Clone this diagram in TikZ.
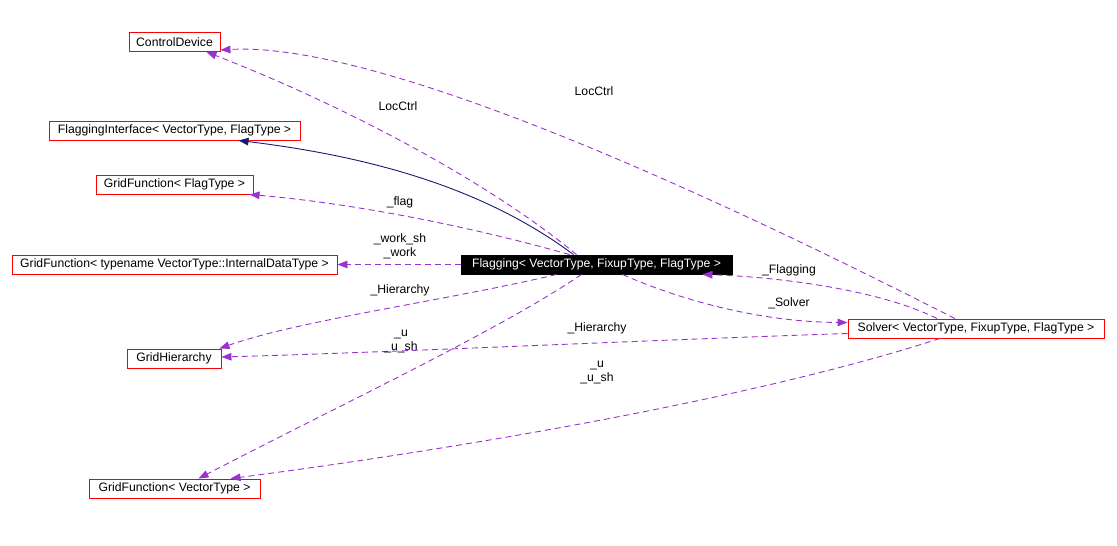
\documentclass[tikz,border=0pt]{standalone}
\usepackage{fontspec}
\setmainfont{Liberation Sans}
\usetikzlibrary{arrows.meta,positioning}
\definecolor{orchidline}{RGB}{154,50,205}
\definecolor{navyline}{RGB}{25,25,112}

\begin{document}
\begin{tikzpicture}[x=1pt,y=-1pt,
  font=\fontsize{12.2}{14}\selectfont,
  clsnode/.style={draw=red,line width=0.9pt,inner xsep=2pt,inner ysep=0pt,minimum height=19pt,text=black},
  curnode/.style={draw=black,fill=black,text=white,line width=0.9pt,inner xsep=2pt,inner ysep=0pt,minimum height=19pt},
  uselink/.style={draw=orchidline,line width=0.9pt,dash pattern=on 6pt off 4pt,-{Triangle[length=10pt,width=7.5pt,fill=orchidline]}},
  inhlink/.style={draw=navyline,line width=0.9pt,-{Triangle[length=10pt,width=7.5pt,fill=navyline]}},
  lbl/.style={inner sep=0pt,align=center}
]
\useasboundingbox (0,0) rectangle (1117,546);

% classes
\node[clsnode,minimum width=91pt] at (174.5,42) (cd) {ControlDevice};
\node[clsnode,minimum width=251pt] at (174.5,130.5) (fi) {FlaggingInterface< VectorType, FlagType >};
\node[clsnode,minimum width=157pt] at (174.5,184.5) (gff) {GridFunction< FlagType >};
\node[clsnode,minimum width=325pt] at (174.5,264.5) (gfi) {GridFunction< typename VectorType::InternalDataType >};
\node[clsnode,minimum width=94pt] at (174,358.5) (gh) {GridHierarchy};
\node[clsnode,minimum width=171pt] at (174.5,488.5) (gfv) {GridFunction< VectorType >};
\node[curnode,minimum width=271pt] at (596.5,264.5) (flg) {Flagging< VectorType, FixupType, FlagType >};
\node[clsnode,minimum width=256pt] at (976,328.5) (slv) {Solver< VectorType, FixupType, FlagType >};

% inheritance
\draw[inhlink] ([xshift=-23pt]flg.north) .. controls (500,200) and (400,160) .. ([xshift=64pt]fi.south);

% usage
\draw[uselink] ([xshift=-20pt]flg.north) .. controls (480,175) and (330,100) .. ([xshift=32pt]cd.south);
\draw[uselink] ([xshift=-21pt]slv.north) .. controls (800,240) and (400,40) .. ([yshift=-8pt]cd.east);
\draw[uselink] ([xshift=-27pt]flg.north) .. controls (490,232) and (370,205) .. ([xshift=75pt]gff.south);
\draw[uselink] (flg.west) -- (gfi.east);
\draw[uselink] ([xshift=-40pt]flg.south) .. controls (450,300) and (300,320) .. ([xshift=-2pt]gh.north east);
\draw[uselink] ([xshift=-15pt]flg.south) .. controls (500,330) and (330,410) .. ([xshift=24pt]gfv.north);
\draw[uselink] ([xshift=26pt]flg.south) .. controls (680,300) and (760,322) .. ([yshift=6pt]slv.west);
\draw[uselink] ([xshift=-39pt]slv.north) .. controls (880,290) and (780,277) .. ([xshift=-30pt]flg.south east);
\draw[uselink] ([yshift=-5pt]slv.west) .. controls (650,340) and (400,352) .. ([yshift=1.5pt]gh.east);
\draw[uselink] ([xshift=-36pt]slv.south) .. controls (750,400) and (450,450) .. ([xshift=56pt]gfv.north);

% labels
\node[lbl] at (398,106) (lcd1) {LocCtrl};
\node[lbl] at (594,91) (lcd2) {LocCtrl};
\node[lbl] at (400,202) (lflag) {\_flag};
\node[lbl] at (400,246.5) (lwork) {\_work\_sh\\\_work};
\node[lbl] at (400,290) (lhier1) {\_Hierarchy};
\node[lbl] at (401,341) (lu1) {\_u\\\_u\_sh};
\node[lbl] at (789,303) (lslv) {\_Solver};
\node[lbl] at (789,270) (lflg) {\_Flagging};
\node[lbl] at (597,328) (lhier2) {\_Hierarchy};
\node[lbl] at (597,372) (lu2) {\_u\\\_u\_sh};
\end{tikzpicture}
\end{document}
